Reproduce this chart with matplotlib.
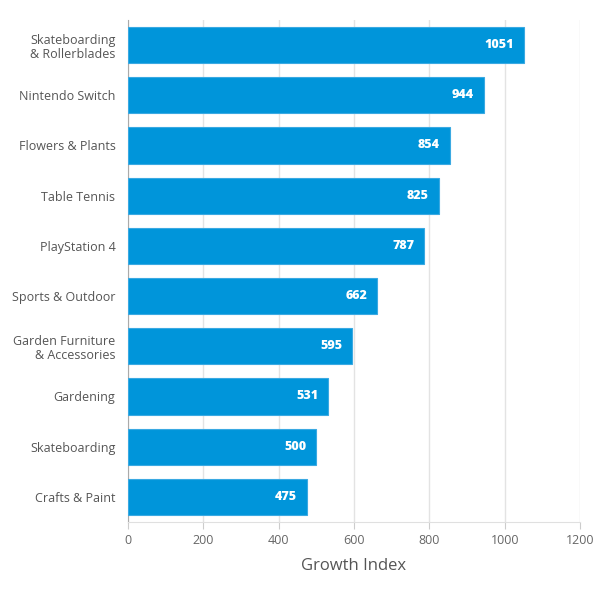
import matplotlib
matplotlib.use("Agg")
import matplotlib.pyplot as plt

categories = ["Skateboarding\n& Rollerblades", "Nintendo Switch", "Flowers & Plants",
              "Table Tennis", "PlayStation 4", "Sports & Outdoor",
              "Garden Furniture\n& Accessories", "Gardening", "Skateboarding",
              "Crafts & Paint"]
values = [1051, 944, 854, 825, 787, 662, 595, 531, 500, 475]
x_ticks = [0, 200, 400, 600, 800, 1000, 1200]

plt.rcParams['font.family'] = ['Open Sans', 'DejaVu Sans']

fig = plt.figure(figsize=(6, 6), dpi=100)
ax = fig.add_axes([0.2133, 0.13, 0.7534, 0.8367])

pos = list(range(len(categories)))
bars = ax.barh(pos, values, height=0.72, color='#0095da', edgecolor='#3aa9e2', linewidth=0.8, zorder=3)
for p, v in zip(pos, values):
    ax.annotate(str(v), (v, p), xytext=(-7, 0), textcoords='offset points',
                ha='right', va='center', color='white', fontsize=9, fontweight='heavy', zorder=4)

ax.set_ylim(len(categories) - 0.5, -0.5)
ax.set_xlim(0, 1200)
ax.set_xticks(x_ticks)
ax.set_yticks(pos)
ax.set_yticklabels(categories, color='#555555', fontsize=9, linespacing=1.1)
ax.tick_params(axis='x', colors='#666666', labelsize=9, length=5, color='#cccccc')
ax.tick_params(axis='y', length=0, pad=9)
ax.grid(axis='x', color='#e3e3e3', linewidth=1, zorder=0)
for s in ['top', 'right']:
    ax.spines[s].set_visible(False)
ax.spines['left'].set_color('#aaaaaa')
ax.spines['bottom'].set_color('#e0e0e0')
ax.set_xlabel('Growth Index', fontsize=12, color='#555555', labelpad=8)

fig.savefig('out.png', dpi=100)
